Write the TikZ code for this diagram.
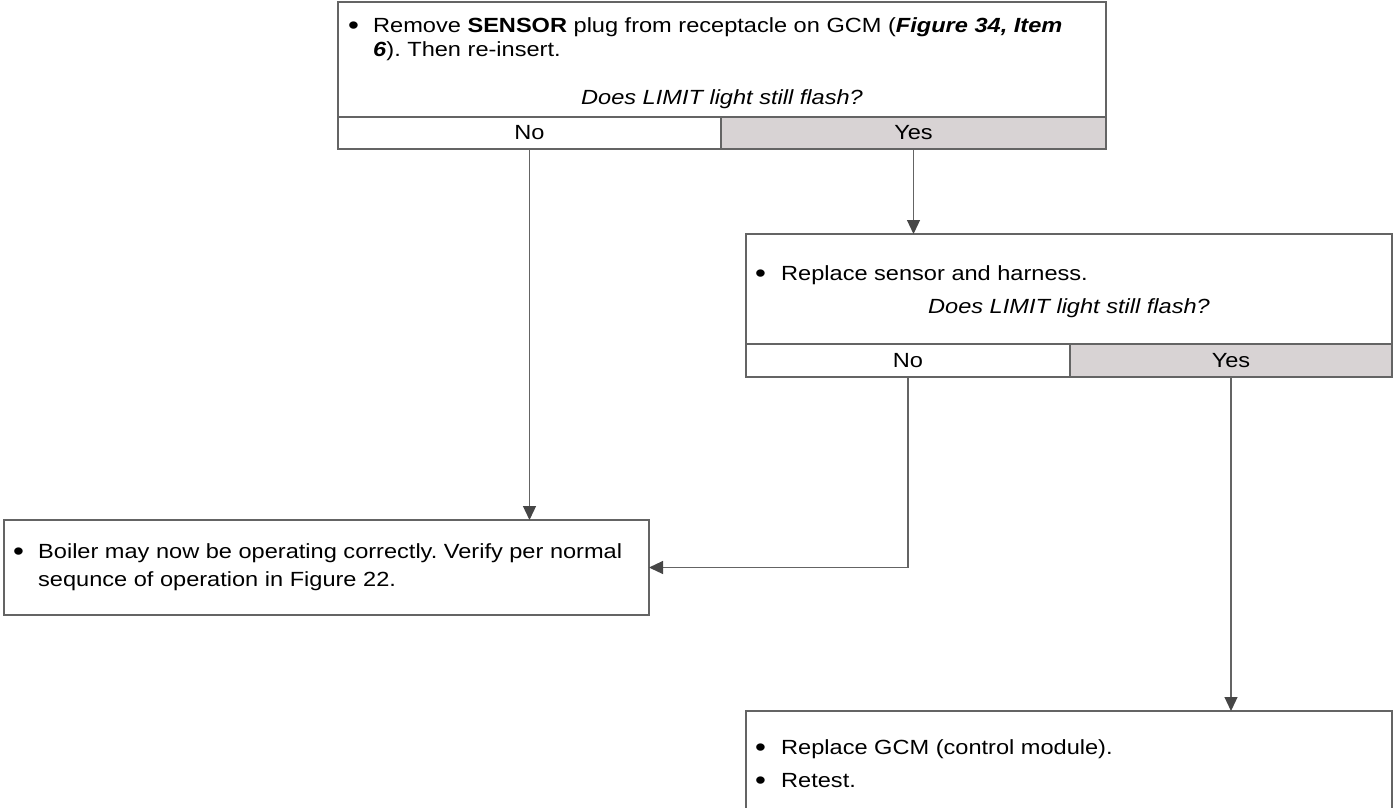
\documentclass[tikz,border=0pt]{standalone}
\usepackage{fontspec}
\setmainfont{Liberation Sans}[FakeStretch=1.15]
\usepackage{xcolor}
\definecolor{ln}{RGB}{100,100,100}
\definecolor{hd}{RGB}{70,70,70}
\definecolor{yc}{RGB}{216,211,212}
\usepackage{tikz}
\usetikzlibrary{arrows.meta}
\frenchspacing

\begin{document}
\begin{tikzpicture}[x=1pt,y=-1pt,
  font=\fontsize{20.5pt}{22pt}\selectfont,
  box/.style={draw=ln,line width=1.2pt,anchor=north west,inner sep=0pt,outer sep=0pt},
  yesbox/.style={box,fill=yc},
  txt/.style={anchor=base west,inner sep=0pt},
  dot/.style={anchor=base west,inner sep=0pt,font=\fontsize{27pt}{27pt}\selectfont},
  ask/.style={anchor=base,inner sep=0pt,font=\fontsize{20.5pt}{22pt}\selectfont\itshape},
  arr/.style={draw=ln,line width=1.2pt,-{Triangle[length=14pt,width=13pt,color=hd]}}]
  \useasboundingbox (0,0) rectangle (1393,807);
  \clip (0,0) rectangle (1393,807);

  % First check
  \node[box,minimum width=768pt,minimum height=115pt] (q1) at (338,2) {};
  \node[box,minimum width=383pt,minimum height=32pt] (no1) at (338,117) {No};
  \node[yesbox,minimum width=385pt,minimum height=32pt] (yes1) at (721,117) {Yes};
  \node[dot] (q1b) at (348,34) {\textbullet};
  \node[txt] (q1t1) at (373,32) {Remove \textbf{SENSOR} plug from receptacle on GCM (\textbf{\textit{Figure 34, Item}}};
  \node[txt] (q1t2) at (373,56) {\textbf{\textit{6}}). Then re-insert.};
  \node[ask] (q1ask) at (722,104) {Does LIMIT light still flash?};

  % Second check
  \node[box,minimum width=646pt,minimum height=110pt] (q2) at (746,234) {};
  \node[box,minimum width=324pt,minimum height=33pt] (no2) at (746,344) {No};
  \node[yesbox,minimum width=322pt,minimum height=33pt] (yes2) at (1070,344) {Yes};
  \node[dot] (q2b) at (755,282) {\textbullet};
  \node[txt] (q2t) at (781,280) {Replace sensor and harness.};
  \node[ask] (q2ask) at (1069,313) {Does LIMIT light still flash?};

  % Results
  \node[box,minimum width=645pt,minimum height=95pt] (boiler) at (4,520) {};
  \node[dot] (bob) at (13,560) {\textbullet};
  \node[txt] (bot1) at (38,558) {Boiler may now be operating correctly. Verify per normal};
  \node[txt] (bot2) at (38,586) {sequnce of operation in Figure 22.};

  \node[box,minimum width=646pt,minimum height=130pt] (gcm) at (746,711) {};
  \node[dot] (gcb1) at (755,756) {\textbullet};
  \node[txt] (gct1) at (781,754) {Replace GCM (control module).};
  \node[dot] (gcb2) at (755,789) {\textbullet};
  \node[txt] (gct2) at (781,787) {Retest.};

  % Arrows
  \draw[arr] (no1.south) -- (no1.south |- boiler.north);
  \draw[arr] (yes1.south) -- (yes1.south |- q2.north);
  \draw[arr] (no2.south) |- (boiler.east);
  \draw[arr] (yes2.south) -- (yes2.south |- gcm.north);
\end{tikzpicture}
\end{document}
